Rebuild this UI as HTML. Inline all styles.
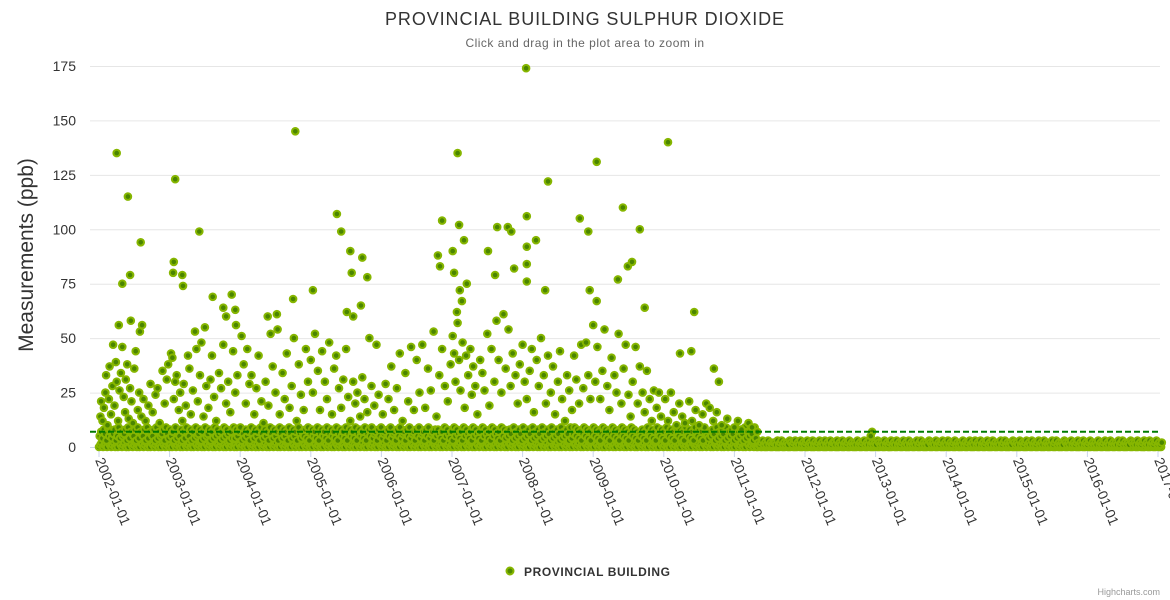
<!DOCTYPE html>
<html><head><meta charset="utf-8">
<style>
html,body{margin:0;padding:0;background:#fff;}
svg{display:block;font-family:"Liberation Sans","DejaVu Sans",sans-serif;}
</style></head>
<body>
<svg id="chart" width="1170" height="600" viewBox="0 0 1170 600" xmlns="http://www.w3.org/2000/svg">
<text x="585" y="25" text-anchor="middle" font-size="18" letter-spacing="0.9" fill="#333">PROVINCIAL BUILDING SULPHUR DIOXIDE</text>
<text x="585" y="47" text-anchor="middle" font-size="12" letter-spacing="0.5" fill="#666">Click and drag in the plot area to zoom in</text>
<text transform="translate(33,255) rotate(-90)" text-anchor="middle" font-size="21" fill="#333">Measurements (ppb)</text>
<g id="grid"></g><g id="yticks"></g><g id="xticks"></g><g id="marks"></g><g id="plotline"></g>
<g>
<circle cx="510" cy="571" r="3.5" fill="#508a00" stroke="#86b600" stroke-width="2"/>
<text x="524" y="576" font-size="12" letter-spacing="0.6" font-weight="bold" fill="#333">PROVINCIAL BUILDING</text>
</g>
<text x="1160" y="595" text-anchor="end" font-size="9" fill="#999">Highcharts.com</text>
</svg>
<script>
const yTicks=[0,25,50,75,100,125,150,175];
const xTickYears=[2002,2003,2004,2005,2006,2007,2008,2009,2010,2011,2012,2013,2014,2015,2016,2017];
const threshold=7;
const outT=[2002.25,2002.41,2002.44,2002.59,2002.33,2002.28,2002.45,2002.61,2002.58,2003.08,2003.06,2003.05,2003.18,2003.19,2003.42,2003.61,2003.88,2003.76,2003.8,2003.93,2003.94,2004.78,2004.75,2004.52,2004.39,2005.03,2005.37,2005.43,2005.56,2005.58,2005.73,2005.8,2005.51,2005.6,2005.71,2006.86,2007.08,2007.1,2007.01,2007.17,2006.8,2006.83,2007.03,2007.11,2007.14,2007.07,2007.21,2007.51,2007.61,2007.64,2007.79,2007.84,2007.88,2008.05,2008.06,2008.06,2008.06,2008.06,2008.19,2008.36,2008.32,2008.81,2008.93,2009.05,2008.95,2009.05,2009.42,2009.35,2009.49,2009.55,2009.66,2010.06,2009.73,2010.23,2010.43,2010.39,2010.71,2010.78];
const outV=[135,115,79,94,75,56,58,56,53,123,85,80,79,74,99,69,70,64,60,63,56,145,68,61,60,72,107,99,90,80,87,78,62,60,65,104,135,102,90,95,88,83,80,72,67,62,75,90,79,101,101,99,82,174,106,92,84,76,95,122,72,105,99,131,72,67,110,77,83,85,100,140,64,43,62,44,36,30];
const midData="2002.02:14,2002.03:21,2002.05:12,2002.07:18,2002.09:25,2002.1:33,2002.12:10,2002.14:22,2002.15:37,2002.17:15,2002.19:28,2002.2:47,2002.22:19,2002.24:39,2002.25:30,2002.27:12,2002.29:26,2002.31:34,2002.33:46,2002.35:23,2002.37:16,2002.38:31,2002.4:38,2002.42:13,2002.44:27,2002.46:21,2002.48:11,2002.5:36,2002.52:44,2002.55:17,2002.57:25,2002.6:14,2002.63:22,2002.66:12,2002.7:19,2002.73:29,2002.76:16,2002.8:24,2002.83:27,2002.86:11,2002.9:35,2002.93:20,2002.96:31,2002.98:38,2003.02:43,2003.04:41,2003.06:22,2003.08:30,2003.1:33,2003.13:17,2003.15:25,2003.18:12,2003.2:29,2003.23:19,2003.26:42,2003.28:36,2003.3:15,2003.33:26,2003.36:53,2003.38:45,2003.4:21,2003.43:33,2003.45:48,2003.48:14,2003.5:55,2003.52:28,2003.55:18,2003.58:31,2003.6:42,2003.63:23,2003.66:12,2003.7:34,2003.73:27,2003.76:47,2003.8:20,2003.83:30,2003.86:16,2003.9:44,2003.93:25,2003.96:33,2004.02:51,2004.05:38,2004.08:20,2004.1:45,2004.13:29,2004.16:33,2004.2:15,2004.23:27,2004.26:42,2004.3:21,2004.33:11,2004.36:30,2004.4:19,2004.43:52,2004.46:37,2004.5:25,2004.53:54,2004.56:15,2004.6:34,2004.63:22,2004.66:43,2004.7:18,2004.73:28,2004.76:50,2004.8:12,2004.83:38,2004.86:24,2004.9:17,2004.93:45,2004.96:30,2005.0:40,2005.03:25,2005.06:52,2005.1:35,2005.13:17,2005.16:44,2005.2:30,2005.23:22,2005.26:48,2005.3:15,2005.33:36,2005.36:42,2005.4:27,2005.43:18,2005.46:31,2005.5:45,2005.53:23,2005.56:12,2005.6:30,2005.63:20,2005.66:25,2005.7:14,2005.73:32,2005.76:22,2005.8:16,2005.83:50,2005.86:28,2005.9:19,2005.93:47,2005.96:24,2006.02:15,2006.06:29,2006.1:22,2006.14:37,2006.18:17,2006.22:27,2006.26:43,2006.3:12,2006.34:34,2006.38:21,2006.42:46,2006.46:17,2006.5:40,2006.54:25,2006.58:47,2006.62:18,2006.66:36,2006.7:26,2006.74:53,2006.78:14,2006.82:33,2006.86:45,2006.9:28,2006.94:21,2006.98:38,2007.01:51,2007.03:43,2007.05:30,2007.08:57,2007.1:40,2007.12:26,2007.15:48,2007.18:18,2007.2:42,2007.23:33,2007.26:45,2007.28:24,2007.3:37,2007.33:28,2007.36:15,2007.4:40,2007.43:34,2007.46:26,2007.5:52,2007.53:19,2007.56:45,2007.6:30,2007.63:58,2007.66:40,2007.7:25,2007.73:61,2007.76:36,2007.8:54,2007.83:28,2007.86:43,2007.9:33,2007.93:20,2007.96:38,2008.0:47,2008.03:30,2008.06:22,2008.1:35,2008.13:45,2008.16:16,2008.2:40,2008.23:28,2008.26:50,2008.3:33,2008.33:20,2008.36:42,2008.4:25,2008.43:37,2008.46:15,2008.5:30,2008.53:44,2008.56:22,2008.6:12,2008.63:33,2008.66:26,2008.7:17,2008.73:42,2008.76:31,2008.8:20,2008.83:47,2008.86:27,2008.9:48,2008.93:33,2008.96:22,2009.0:56,2009.03:30,2009.06:46,2009.1:22,2009.13:35,2009.16:54,2009.2:28,2009.23:17,2009.26:41,2009.3:33,2009.33:25,2009.36:52,2009.4:20,2009.43:36,2009.46:47,2009.5:24,2009.53:14,2009.56:30,2009.6:46,2009.63:20,2009.66:37,2009.7:25,2009.73:16,2009.76:35,2009.8:22,2009.83:12,2009.86:26,2009.9:18,2009.93:25,2009.96:14,2010.02:22,2010.06:12,2010.1:25,2010.14:16,2010.18:10,2010.22:20,2010.26:14,2010.3:11,2010.36:21,2010.4:12,2010.45:17,2010.5:10,2010.55:15,2010.6:20,2010.65:18,2010.7:12,2010.75:16,2010.82:10,2010.9:13,2011.0:9,2011.05:12,2011.1:8,2011.2:11,2011.25:9,2012.95:7,2012.93:5";
const midT=midData.split(',').map(s=>+s.split(':')[0]);
const midV=midData.split(',').map(s=>+s.split(':')[1]);
const bandStart=2002.0, bandWeek=1/52.18;
const bandHi="57486395746835947568394765839476583947658394756839"+"64857394658374965837495683749568374958637495863749"+"48579364857396485739648573964857396485739648573964"+"75849368574936857493685749368574936857493685749368"+"59467385946738594673859467385946738594673859467385"+"86473958647395864739586473958647395864739586473958"+"47586394758639475863947586394758639475863947586394"+"69584736958473695847369584736958473695847369584736"+"58473965847396584739658473965847396584739658473965"+"4758639475863947586394758639475863947"+"21231213121221312312121321231213121231213121231213"+"12131221312131212312121312123121312121321213121231"+"21312123121312121312312121321213121231213121231212"+"13121231213121312123121312121312312121321213121231"+"21312123121312121312312121321213121231213121231212"+"1312123121312121312312121321213121231213121231212";
const bandLo="01201102101201021012010210120102101201021012010210"+"12010210120102101201021012010210120102101201021012"+"01021012010210120102101201021012010210120102101201"+"02101201021012010210120102101201021012010210120102"+"10120102101201021012010210120102101201021012010210"+"12010210120102101201021012010210120102101201021012"+"01021012010210120102101201021012010210120102101201"+"02101201021012010210120102101201021012010210120102"+"10120102101201021012010210120102101201021012010210"+"1201021012010210120102101201021012010"+"01001000100010000100010001000010001000100001000100"+"00100010000100010001000010001000100001000100010000"+"10001000100001000100010000100010001000010001000100"+"00100010000100010001000010001000100001000100010000"+"10001000100001000100010000100010001000010001000100"+"0010001000010001000100001000100010000100010001000";

const NS='http://www.w3.org/2000/svg';
const X0=90,X1=1160,Y0=447,Y1=66;
const xs=t=>99+(t-2002)*70.6;
const ys=v=>Y0-(v/175)*(Y0-Y1);
function mk(tag,attrs,parent){const e=document.createElementNS(NS,tag);for(const k in attrs)e.setAttribute(k,attrs[k]);parent.appendChild(e);return e;}
const grid=document.getElementById('grid'),yt=document.getElementById('yticks'),xt=document.getElementById('xticks'),marks=document.getElementById('marks'),pl=document.getElementById('plotline');
yTicks.forEach(v=>{
  const l=mk('line',{x1:X0,x2:X1,y1:ys(v)+0.5,y2:ys(v)+0.5,stroke:'#e6e6e6','stroke-width':1},grid);
  
  
  const t=mk('text',{x:76,y:ys(v)+5,'text-anchor':'end','font-size':14,fill:'#333'},yt);
  
  
  t.textContent=v;
});
const ax=mk('line',{x1:X0,x2:X1,y1:Y0+0.5,y2:Y0+0.5,stroke:'#ccd6eb','stroke-width':1},xt);


xTickYears.forEach(yr=>{
  const x=xs(yr);
  const tk=mk('line',{x1:x,x2:x,y1:Y0,y2:Y0+10,stroke:'#ccd6eb'},xt);
  
  
  const t=mk('text',{x:0,y:0,'font-size':14,fill:'#333',transform:`translate(${x-4},${Y0+13}) rotate(68)`},xt);
  
  
  t.textContent=yr+'-01-01';
});
function pt(t,v,name){
  const c=mk('circle',{cx:xs(t).toFixed(1),cy:ys(v).toFixed(1),r:3.3,fill:'#4a8500',stroke:'#86b600','stroke-width':2},marks);
  
  
}
for(let i=0;i<bandLo.length;i++){pt(bandStart+i*bandWeek,+bandLo[i],'band-point');}
for(let i=0;i<bandHi.length;i++){pt(bandStart+i*bandWeek+0.01,+bandHi[i],'band-point');}
for(let i=0;i<midT.length;i++){pt(midT[i],midV[i],'data-point');}
for(let i=0;i<outT.length;i++){pt(outT[i],outV[i],'outlier-point');}
const d=mk('line',{x1:X0,x2:X1,y1:ys(threshold),y2:ys(threshold),stroke:'#007a00','stroke-width':2,'stroke-dasharray':'6,3'},pl);


</script>
</body></html>
